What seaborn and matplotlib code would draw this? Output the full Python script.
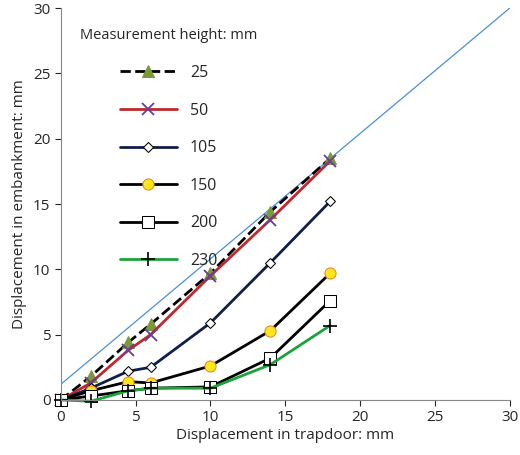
import numpy as np
import seaborn as sns
import matplotlib
matplotlib.use('Agg')
import matplotlib.pyplot as plt
import pandas as pd

trapdoor = [0, 2, 4.5, 6, 10, 14, 18]
h25 = [0, 1.8, 4.4, 5.8, 9.7, 14.4, 18.5]
h50 = [0, 1.3, 3.8, 5.0, 9.5, 13.8, 18.3]
h105 = [0, 0.9, 2.2, 2.5, 5.9, 10.5, 15.2]
h150 = [0, 0.7, 1.4, 1.3, 2.6, 5.3, 9.7]
h200 = [0, 0.3, 0.7, 0.9, 1.0, 3.2, 7.6]
h230 = [0, -0.1, 0.7, 0.9, 0.9, 2.7, 5.7]
ref_x = [0, 30]
ref_y = [1.2, 30]

sns.set_style('white')
plt.rcParams['font.family'] = ['Open Sans', 'DejaVu Sans']

fig, ax = plt.subplots(figsize=(5.2, 4.55), dpi=100)
ax.plot(ref_x, ref_y, color='#4a90d9', lw=0.9)

styles = [
    ('25', h25, dict(color='black', ls='--', marker='^', mfc='#7a9a3a', mec='#7a9a3a', ms=8)),
    ('50', h50, dict(color='#c0282d', marker='x', mec='#6a3d9a', ms=8, mew=1.3)),
    ('105', h105, dict(color='#0f1f4a', marker='D', mfc='white', mec='black', ms=5)),
    ('150', h150, dict(color='black', marker='o', mfc='#ffe81a', mec='#e8862a', ms=8)),
    ('200', h200, dict(color='black', marker='s', mfc='white', mec='black', ms=8)),
    ('230', h230, dict(color='#1aa33a', marker='+', mec='black', ms=10, mew=1.2)),
]
for name, vals, kw in styles:
    df = pd.DataFrame({'x': trapdoor, 'y': vals})
    sns.lineplot(data=df, x='x', y='y', ax=ax, label=name, lw=2, clip_on=False, **kw)

ax.set_xlim(0, 30)
ax.set_ylim(0, 30)
ax.set_xticks(range(0, 31, 5))
ax.set_yticks(range(0, 31, 5))
ax.tick_params(labelsize=11, length=4, direction='out', bottom=True, left=True)
for s in ['top', 'right']:
    ax.spines[s].set_visible(False)
for s in ['bottom', 'left']:
    ax.spines[s].set_color('#888888')
ax.set_xlabel('Displacement in trapdoor: mm', fontsize=11, labelpad=2)
ax.set_ylabel('Displacement in embankment: mm', fontsize=11, labelpad=4)
leg = ax.legend(title='Measurement height: mm', loc='upper left', frameon=False,
                fontsize=11.5, title_fontsize=10.5, handlelength=3.6, labelspacing=1.35,
                bbox_to_anchor=(0.01, 0.985))
plt.subplots_adjust(left=0.117, right=0.98, top=0.982, bottom=0.121)
plt.savefig('out.png')
